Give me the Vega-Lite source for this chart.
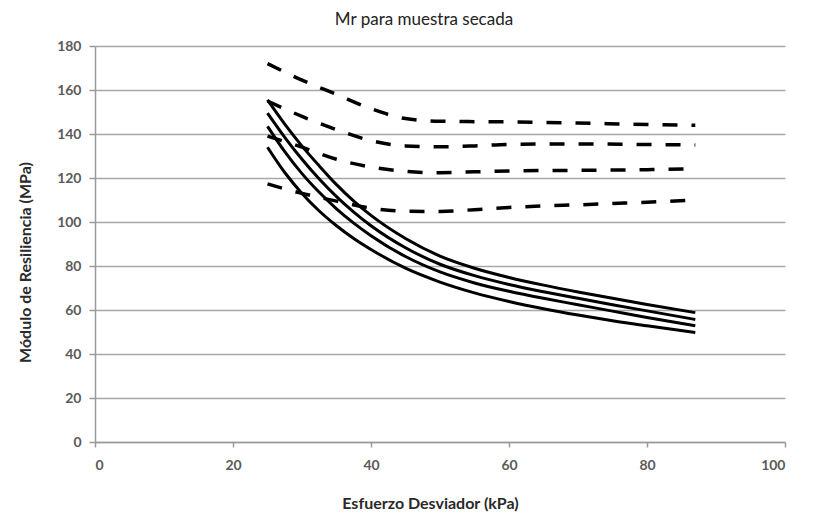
{
  "$schema": "https://vega.github.io/schema/vega-lite/v6.json",
  "width": 690,
  "height": 396,
  "autosize": {"type": "none"},
  "padding": {"left": 95, "top": 46, "right": 47, "bottom": 79},
  "background": "white",
  "title": {"text": "Mr para muestra secada", "font": "Lato", "fontSize": 17, "fontWeight": "normal", "color": "#222222", "offset": 10, "dx": -16},
  "config": {"view": {"stroke": null}},
  "data": {"values": [
    {"s": "L1", "t": "solid", "x": 25, "y": 155.5}, {"s": "L1", "t": "solid", "x": 27.5, "y": 144.5}, {"s": "L1", "t": "solid", "x": 30, "y": 134.5}, {"s": "L1", "t": "solid", "x": 32.5, "y": 125.5}, {"s": "L1", "t": "solid", "x": 35, "y": 117}, {"s": "L1", "t": "solid", "x": 37.5, "y": 109.5}, {"s": "L1", "t": "solid", "x": 40, "y": 103}, {"s": "L1", "t": "solid", "x": 45, "y": 92.5}, {"s": "L1", "t": "solid", "x": 50, "y": 84.5}, {"s": "L1", "t": "solid", "x": 55, "y": 79}, {"s": "L1", "t": "solid", "x": 60, "y": 74.8}, {"s": "L1", "t": "solid", "x": 65, "y": 71.3}, {"s": "L1", "t": "solid", "x": 70, "y": 68.2}, {"s": "L1", "t": "solid", "x": 75, "y": 65.3}, {"s": "L1", "t": "solid", "x": 80, "y": 62.5}, {"s": "L1", "t": "solid", "x": 87, "y": 58.8},
    {"s": "L2", "t": "solid", "x": 25, "y": 149.5}, {"s": "L2", "t": "solid", "x": 27.5, "y": 138.5}, {"s": "L2", "t": "solid", "x": 30, "y": 128.5}, {"s": "L2", "t": "solid", "x": 32.5, "y": 119.5}, {"s": "L2", "t": "solid", "x": 35, "y": 111.5}, {"s": "L2", "t": "solid", "x": 37.5, "y": 104.5}, {"s": "L2", "t": "solid", "x": 40, "y": 98.3}, {"s": "L2", "t": "solid", "x": 45, "y": 88.3}, {"s": "L2", "t": "solid", "x": 50, "y": 80.8}, {"s": "L2", "t": "solid", "x": 55, "y": 75.6}, {"s": "L2", "t": "solid", "x": 60, "y": 71.6}, {"s": "L2", "t": "solid", "x": 65, "y": 68.3}, {"s": "L2", "t": "solid", "x": 70, "y": 65.3}, {"s": "L2", "t": "solid", "x": 75, "y": 62.4}, {"s": "L2", "t": "solid", "x": 80, "y": 59.6}, {"s": "L2", "t": "solid", "x": 87, "y": 55.7},
    {"s": "L3", "t": "solid", "x": 25, "y": 143.5}, {"s": "L3", "t": "solid", "x": 27.5, "y": 132}, {"s": "L3", "t": "solid", "x": 30, "y": 122}, {"s": "L3", "t": "solid", "x": 32.5, "y": 113.5}, {"s": "L3", "t": "solid", "x": 35, "y": 106}, {"s": "L3", "t": "solid", "x": 37.5, "y": 99.5}, {"s": "L3", "t": "solid", "x": 40, "y": 93.8}, {"s": "L3", "t": "solid", "x": 45, "y": 84.3}, {"s": "L3", "t": "solid", "x": 50, "y": 77.3}, {"s": "L3", "t": "solid", "x": 55, "y": 72.3}, {"s": "L3", "t": "solid", "x": 60, "y": 68.5}, {"s": "L3", "t": "solid", "x": 65, "y": 65.3}, {"s": "L3", "t": "solid", "x": 70, "y": 62.4}, {"s": "L3", "t": "solid", "x": 75, "y": 59.5}, {"s": "L3", "t": "solid", "x": 80, "y": 56.6}, {"s": "L3", "t": "solid", "x": 87, "y": 52.8},
    {"s": "L4", "t": "solid", "x": 25, "y": 134}, {"s": "L4", "t": "solid", "x": 27.5, "y": 122.5}, {"s": "L4", "t": "solid", "x": 30, "y": 113}, {"s": "L4", "t": "solid", "x": 32.5, "y": 105}, {"s": "L4", "t": "solid", "x": 35, "y": 98.3}, {"s": "L4", "t": "solid", "x": 37.5, "y": 92.5}, {"s": "L4", "t": "solid", "x": 40, "y": 87.5}, {"s": "L4", "t": "solid", "x": 45, "y": 79}, {"s": "L4", "t": "solid", "x": 50, "y": 72.7}, {"s": "L4", "t": "solid", "x": 55, "y": 67.8}, {"s": "L4", "t": "solid", "x": 60, "y": 63.9}, {"s": "L4", "t": "solid", "x": 65, "y": 60.6}, {"s": "L4", "t": "solid", "x": 70, "y": 57.7}, {"s": "L4", "t": "solid", "x": 75, "y": 55.1}, {"s": "L4", "t": "solid", "x": 80, "y": 52.8}, {"s": "L4", "t": "solid", "x": 87, "y": 49.8},
    {"s": "D1", "t": "dash", "x": 25, "y": 172}, {"s": "D1", "t": "dash", "x": 30, "y": 164.5}, {"s": "D1", "t": "dash", "x": 35, "y": 158}, {"s": "D1", "t": "dash", "x": 40, "y": 151.5}, {"s": "D1", "t": "dash", "x": 45, "y": 147}, {"s": "D1", "t": "dash", "x": 50, "y": 145.8}, {"s": "D1", "t": "dash", "x": 55, "y": 145.6}, {"s": "D1", "t": "dash", "x": 60, "y": 145.5}, {"s": "D1", "t": "dash", "x": 70, "y": 145}, {"s": "D1", "t": "dash", "x": 80, "y": 144.3}, {"s": "D1", "t": "dash", "x": 87, "y": 144},
    {"s": "D2", "t": "dash", "x": 25, "y": 155}, {"s": "D2", "t": "dash", "x": 30, "y": 148}, {"s": "D2", "t": "dash", "x": 35, "y": 142}, {"s": "D2", "t": "dash", "x": 40, "y": 137}, {"s": "D2", "t": "dash", "x": 45, "y": 134.6}, {"s": "D2", "t": "dash", "x": 50, "y": 134.2}, {"s": "D2", "t": "dash", "x": 55, "y": 134.6}, {"s": "D2", "t": "dash", "x": 60, "y": 135.3}, {"s": "D2", "t": "dash", "x": 70, "y": 135.5}, {"s": "D2", "t": "dash", "x": 80, "y": 135.2}, {"s": "D2", "t": "dash", "x": 87, "y": 135},
    {"s": "D3", "t": "dash", "x": 25, "y": 139}, {"s": "D3", "t": "dash", "x": 30, "y": 134}, {"s": "D3", "t": "dash", "x": 35, "y": 128.5}, {"s": "D3", "t": "dash", "x": 40, "y": 125}, {"s": "D3", "t": "dash", "x": 45, "y": 123}, {"s": "D3", "t": "dash", "x": 50, "y": 122.4}, {"s": "D3", "t": "dash", "x": 55, "y": 122.8}, {"s": "D3", "t": "dash", "x": 60, "y": 123.2}, {"s": "D3", "t": "dash", "x": 70, "y": 123.5}, {"s": "D3", "t": "dash", "x": 80, "y": 123.8}, {"s": "D3", "t": "dash", "x": 87, "y": 124.2},
    {"s": "D4", "t": "dash", "x": 25, "y": 117.3}, {"s": "D4", "t": "dash", "x": 30, "y": 113}, {"s": "D4", "t": "dash", "x": 35, "y": 109.5}, {"s": "D4", "t": "dash", "x": 40, "y": 106.3}, {"s": "D4", "t": "dash", "x": 45, "y": 104.9}, {"s": "D4", "t": "dash", "x": 50, "y": 104.8}, {"s": "D4", "t": "dash", "x": 55, "y": 105.6}, {"s": "D4", "t": "dash", "x": 60, "y": 106.6}, {"s": "D4", "t": "dash", "x": 65, "y": 107.3}, {"s": "D4", "t": "dash", "x": 70, "y": 107.8}, {"s": "D4", "t": "dash", "x": 75, "y": 108.4}, {"s": "D4", "t": "dash", "x": 80, "y": 109}, {"s": "D4", "t": "dash", "x": 87, "y": 110}
  ]},
  "encoding": {
    "x": {"field": "x", "type": "quantitative", "scale": {"domain": [0, 100], "nice": false, "zero": false},
      "axis": {"title": "Esfuerzo Desviador  (kPa)", "values": [0, 20, 40, 60, 80, 100], "grid": false, "domainColor": "#9a9a9a", "domainWidth": 1.5, "tickColor": "#9a9a9a", "tickWidth": 1.5, "tickSize": 5, "labelPadding": 11, "labelFont": "Lato", "labelFontSize": 14, "labelFontWeight": "bold", "labelColor": "#5a5a5a", "titleFont": "Lato", "titleFontSize": 16, "titleFontWeight": "bold", "titleColor": "#2a2a2a", "titlePadding": 23, "titleX": 335}},
    "y": {"field": "y", "type": "quantitative", "scale": {"domain": [0, 180], "nice": false},
      "axis": {"title": "Módulo de Resiliencia  (MPa)", "values": [0, 20, 40, 60, 80, 100, 120, 140, 160, 180], "grid": true, "gridColor": "#a8a8a8", "gridWidth": 1.5, "domainColor": "#9a9a9a", "domainWidth": 1.5, "tickColor": "#9a9a9a", "tickWidth": 1.5, "tickSize": 6, "labelPadding": 8, "labelFont": "Lato", "labelFontSize": 14, "labelFontWeight": "bold", "labelColor": "#5a5a5a", "titleFont": "Lato", "titleFontSize": 16, "titleFontWeight": "bold", "titleColor": "#2a2a2a", "titleX": -62, "titleY": 216}}
  },
  "layer": [
    {"transform": [{"filter": "datum.t === 'dash'"}], "mark": {"type": "line", "color": "black", "strokeWidth": 3.5, "strokeDash": [15, 14], "interpolate": "monotone"}, "encoding": {"detail": {"field": "s"}}},
    {"transform": [{"filter": "datum.t === 'solid'"}], "mark": {"type": "line", "color": "black", "strokeWidth": 3, "interpolate": "monotone"}, "encoding": {"detail": {"field": "s"}}}
  ]
}
